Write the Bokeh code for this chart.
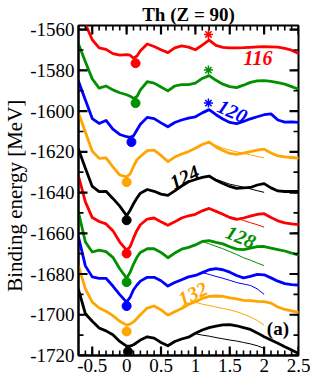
import numpy as np
from bokeh.plotting import figure
from bokeh.models import Range1d, FixedTicker, Label, ColumnDataSource
from bokeh.embed import file_html
from bokeh.resources import INLINE

# ---------------- data ----------------
BETA = [-0.7, -0.6, -0.5, -0.4, -0.3, -0.2, -0.1, 0.0, 0.05, 0.1, 0.15,
        0.2, 0.3, 0.4, 0.5, 0.6, 0.7, 0.8, 0.9, 1.0, 1.1, 1.2, 1.3, 1.4,
        1.5, 1.6, 1.7, 1.8, 1.9, 2.0, 2.1, 2.2, 2.3, 2.4, 2.5]

N_VALUES = [116, 118, 120, 122, 124, 126, 128, 130, 132, 134]

E_N116 = [-1549.7, -1557.2, -1565.0, -1569.0, -1569.7, -1571.8, -1572.5, -1572.3, -1572.6, -1574.0, -1573.0,
          -1570.4, -1567.1, -1568.3, -1569.9, -1571.3, -1569.0, -1568.0, -1568.6, -1569.9, -1567.6, -1565.2,
          -1567.8, -1568.7, -1569.0, -1569.0, -1568.9, -1568.7, -1568.5, -1568.4, -1568.5, -1568.6, -1569.2,
          -1570.1, -1571.8]
E_N118 = [-1567.1, -1575.8, -1584.2, -1588.7, -1587.7, -1589.6, -1591.0, -1592.0, -1592.7, -1593.8, -1592.9,
          -1589.6, -1585.6, -1586.3, -1588.2, -1590.1, -1587.7, -1587.0, -1587.0, -1586.3, -1584.0, -1582.6,
          -1584.9, -1586.8, -1588.0, -1588.5, -1587.3, -1585.9, -1585.2, -1585.1, -1585.4, -1586.1, -1586.8,
          -1588.0, -1589.3]
E_N120 = [-1585.4, -1594.6, -1603.7, -1606.1, -1604.6, -1608.9, -1611.5, -1612.6, -1612.9, -1612.2, -1609.3,
          -1606.5, -1603.1, -1603.7, -1605.8, -1607.7, -1605.6, -1604.4, -1603.5, -1602.8, -1600.9, -1599.3,
          -1601.8, -1603.9, -1605.6, -1606.2, -1605.1, -1603.8, -1602.8, -1601.8, -1601.4, -1604.4, -1605.4,
          -1605.3, -1605.6]
E_N122 = [-1600.9, -1610.3, -1619.7, -1623.2, -1623.0, -1627.4, -1631.4, -1632.3, -1630.9, -1627.2, -1623.9,
          -1622.3, -1619.4, -1619.2, -1621.8, -1624.8, -1622.6, -1621.1, -1619.9, -1618.3, -1616.4, -1615.2,
          -1617.6, -1619.4, -1620.8, -1621.3, -1620.6, -1619.9, -1619.2, -1618.7, -1620.6, -1622.0, -1622.5,
          -1622.8, -1623.1]
E_N124 = [-1618.7, -1628.1, -1637.0, -1639.6, -1639.4, -1642.9, -1646.7, -1651.4, -1648.8, -1645.5, -1642.7,
          -1640.3, -1638.5, -1639.4, -1640.8, -1641.4, -1639.2, -1636.8, -1634.7, -1633.6, -1632.6, -1631.9,
          -1634.0, -1635.6, -1637.0, -1638.0, -1637.7, -1637.5, -1636.3, -1635.6, -1637.7, -1639.2, -1639.5,
          -1639.5, -1639.5]
E_N126 = [-1631.9, -1644.6, -1652.3, -1654.2, -1655.4, -1658.7, -1664.3, -1668.3, -1666.6, -1662.4, -1658.6,
          -1655.8, -1653.0, -1652.5, -1654.4, -1656.1, -1654.4, -1652.5, -1651.4, -1650.7, -1649.0, -1647.8,
          -1649.2, -1650.7, -1652.3, -1653.2, -1652.5, -1651.6, -1650.7, -1650.4, -1652.3, -1653.9, -1654.9,
          -1655.4, -1655.8]
E_N128 = [-1649.7, -1664.3, -1669.2, -1668.3, -1669.0, -1671.8, -1677.4, -1682.1, -1679.3, -1675.1, -1671.8,
          -1669.4, -1667.6, -1667.6, -1669.4, -1672.0, -1669.7, -1667.8, -1666.9, -1665.7, -1664.0, -1663.6,
          -1664.5, -1665.2, -1666.6, -1667.8, -1668.0, -1667.3, -1666.6, -1666.5, -1667.3, -1668.0, -1668.7,
          -1669.7, -1670.8]
E_N130 = [-1661.9, -1676.0, -1681.4, -1682.1, -1682.1, -1685.9, -1690.1, -1693.8, -1691.5, -1687.7, -1685.4,
          -1683.5, -1681.6, -1681.6, -1683.3, -1685.9, -1684.2, -1682.8, -1681.4, -1680.7, -1679.3, -1677.9,
          -1677.4, -1677.9, -1679.1, -1680.7, -1681.9, -1681.2, -1680.2, -1680.4, -1681.9, -1683.5, -1684.7,
          -1685.2, -1685.4]
E_N132 = [-1676.0, -1687.3, -1693.8, -1696.7, -1698.3, -1700.4, -1703.2, -1705.1, -1704.6, -1703.5, -1701.8,
          -1700.0, -1696.7, -1695.7, -1697.6, -1700.2, -1698.5, -1696.9, -1695.0, -1693.6, -1692.0, -1691.0,
          -1690.8, -1691.0, -1691.7, -1692.2, -1692.9, -1693.1, -1693.4, -1693.6, -1694.3, -1696.2, -1697.4,
          -1698.1, -1698.8]
E_N134 = [-1687.7, -1699.5, -1703.2, -1706.5, -1707.9, -1709.8, -1713.1, -1715.4, -1715.4, -1714.7, -1713.6,
          -1712.4, -1710.8, -1711.5, -1713.6, -1715.2, -1713.1, -1711.9, -1711.0, -1709.1, -1707.5, -1706.3,
          -1705.6, -1705.0, -1704.8, -1705.4, -1706.3, -1707.2, -1708.9, -1710.8, -1712.4, -1714.0, -1715.7,
          -1717.3, -1719.0]

# thin (alternative path) curves
NAN = float("nan")
THIN_BETA = [1.0, 1.1, 1.2, 1.3, 1.4, 1.5, 1.6, 1.7, 1.8, 1.9, 2.0]
T_N122 = [NAN, NAN, -1615.4, -1616.9, -1618.2, -1619.2, -1620.0, -1620.8, -1621.5, -1622.3, -1623.0]
T_N124 = [NAN, NAN, -1631.9, -1633.5, -1634.7, -1635.9, -1636.6, -1637.4, -1638.2, -1639.1, -1639.9]
T_N126 = [NAN, NAN, -1648.0, -1649.7, -1650.9, -1651.8, -1652.7, -1653.7, -1654.8, -1655.8, -1657.0]
T_N128 = [NAN, -1664.0, -1665.2, -1666.4, -1667.6, -1669.0, -1670.4, -1672.0, -1673.2, -1674.6, -1675.9]
T_N130 = [NAN, -1679.3, -1680.2, -1681.2, -1682.1, -1683.1, -1684.2, -1684.9, -1685.6, -1687.3, -1690.0]
T_N132 = [-1693.8, -1694.8, -1695.5, -1696.2, -1696.9, -1697.6, -1698.5, -1699.7, -1701.1, -1702.8, -1705.1]
T_N134 = [-1709.3, -1710.0, -1710.5, -1711.2, -1711.8, -1712.4, -1712.9, -1713.6, -1714.3, -1715.2, -1716.5]

# ground-state points
GS_BETA = [0.13, 0.13, 0.07, 0.0, 0.0, 0.0, 0.0, 0.0, 0.0, 0.02]
GS_E = [-1576.5, -1596.1, -1615.2, -1634.9, -1653.6, -1669.9, -1684.0, -1695.7, -1708.2, -1718.1]

# asterisks (N = 116, 118, 120)
STAR_BETA = [1.19, 1.19, 1.19]
STAR_E = [-1562.4, -1579.9, -1596.1]

CURVE_LABELS = ["116", "120", "124", "128", "132"]

XTICKS = [-0.5, 0.0, 0.5, 1.0, 1.5, 2.0, 2.5]
XTICK_LABELS = ["-0.5", "0", "0.5", "1", "1.5", "2", "2.5"]
YTICKS = [-1720, -1700, -1680, -1660, -1640, -1620, -1600, -1580, -1560]
YTICK_LABELS = ["-1720", "-1700", "-1680", "-1660", "-1640", "-1620", "-1600", "-1580", "-1560"]

# ---------------- styling ----------------
COLORS = ["#ff0000", "#009000", "#0000ff", "#ffa500", "#000000"] * 2
FONT = "Liberation Serif"
X0, X1 = -0.7, 2.5
Y0, Y1 = -1720, -1558
FRAME_W, FRAME_H = 220, 330

p = figure(frame_width=FRAME_W, frame_height=FRAME_H,
           x_range=Range1d(X0, X1), y_range=Range1d(Y0, Y1),
           output_backend="svg", toolbar_location=None,
           min_border_left=74, min_border_right=12,
           min_border_top=0, min_border_bottom=25)
p.title.text = "Th (Z = 90)"
p.title.align = "center"
p.title.text_font = FONT
p.title.text_font_size = "19px"
p.title.text_font_style = "bold"
p.title.text_color = "black"
p.title.standoff = 2
p.title.offset = 0

p.xgrid.visible = False
p.ygrid.visible = False
p.outline_line_color = "black"
p.outline_line_width = 2
p.background_fill_color = "white"
p.border_fill_color = "white"

x_minor = [round(float(v), 2) for v in np.arange(-0.7, 2.501, 0.1)]
y_minor = list(range(-1720, -1555, 10))


def style_axis(ax):
    ax.axis_line_width = 2
    ax.axis_line_color = "black"
    ax.major_tick_in = 0
    ax.major_tick_out = 0
    ax.minor_tick_in = 0
    ax.minor_tick_out = 0
    ax.major_label_text_font = FONT
    ax.major_label_text_font_size = "19px"
    ax.major_label_text_color = "black"


xaxis = p.xaxis[0]
xaxis.ticker = FixedTicker(ticks=XTICKS, minor_ticks=x_minor)
xaxis.major_label_overrides = dict(zip(XTICKS, XTICK_LABELS))
style_axis(xaxis)
xaxis.major_label_standoff = 3

yaxis = p.yaxis[0]
yaxis.ticker = FixedTicker(ticks=YTICKS, minor_ticks=y_minor)
yaxis.major_label_overrides = dict(zip(YTICKS, YTICK_LABELS))
style_axis(yaxis)
yaxis.major_label_standoff = 4
yaxis.axis_label = "Binding  energy  [MeV]"
yaxis.axis_label_text_font = FONT
yaxis.axis_label_text_font_size = "21px"
yaxis.axis_label_text_font_style = "normal"
yaxis.axis_label_text_color = "black"
yaxis.axis_label_standoff = 0

# ---------------- curves ----------------
curves = [E_N116, E_N118, E_N120, E_N122, E_N124, E_N126, E_N128, E_N130, E_N132, E_N134]
for e, c in zip(curves, COLORS):
    p.line(BETA, e, line_color=c, line_width=2.8, line_join="round", line_cap="round")

thin = [(T_N122, COLORS[3]), (T_N124, COLORS[4]), (T_N126, COLORS[5]), (T_N128, COLORS[6]),
        (T_N130, COLORS[7]), (T_N132, COLORS[8]), (T_N134, COLORS[9])]
for t, c in thin:
    p.line(THIN_BETA, np.array(t, dtype=float), line_color=c, line_width=1.0)

gs = ColumnDataSource(dict(x=GS_BETA, y=GS_E, c=COLORS))
p.scatter("x", "y", source=gs, marker="circle", size=9, fill_color="c", line_color="c")

stars = ColumnDataSource(dict(x=STAR_BETA, y=STAR_E, c=COLORS[:3]))
p.scatter("x", "y", source=stars, marker="asterisk", size=9, line_color="c", line_width=1.5)

# inward tick marks on all four sides, lengths given in pixels -> data units
dx_px = (X1 - X0) / FRAME_W
dy_px = (Y1 - Y0) / FRAME_H
for ticks, length, width in ((XTICKS, 9, 2.2), (x_minor, 5, 1.6)):
    n = len(ticks)
    p.segment(x0=ticks, y0=[Y0] * n, x1=ticks, y1=[Y0 + length * dy_px] * n,
              line_color="black", line_width=width)
    p.segment(x0=ticks, y0=[Y1] * n, x1=ticks, y1=[Y1 - length * dy_px] * n,
              line_color="black", line_width=width)
for ticks, length, width in ((YTICKS, 9, 2.2), (y_minor, 5, 1.6)):
    n = len(ticks)
    p.segment(x0=[X0] * n, y0=ticks, x1=[X0 + length * dx_px] * n, y1=ticks,
              line_color="black", line_width=width)
    p.segment(x0=[X1] * n, y0=ticks, x1=[X1 - length * dx_px] * n, y1=ticks,
              line_color="black", line_width=width)

# ---------------- text labels ----------------
label_pos = [(1.91, -1574.1, 0.0, COLORS[0]),
             (1.54, -1600.0, -0.42, COLORS[2]),
             (0.84, -1632.3, 0.45, COLORS[4]),
             (1.66, -1661.7, -0.40, COLORS[6]),
             (0.96, -1689.6, 0.45, COLORS[8])]
for txt, (lx, ly, ang, c) in zip(CURVE_LABELS, label_pos):
    p.add_layout(Label(x=lx, y=ly, text=txt, angle=ang, text_align="center", text_baseline="middle",
                       text_font=FONT, text_font_size="20px", text_font_style="bold italic",
                       text_color=c))

p.add_layout(Label(x=2.2, y=-1706.8, text="(a)", text_align="center", text_baseline="middle",
                   text_font=FONT, text_font_size="19px", text_font_style="bold", text_color="black"))

open("out.html", "w").write(file_html(p, INLINE))
